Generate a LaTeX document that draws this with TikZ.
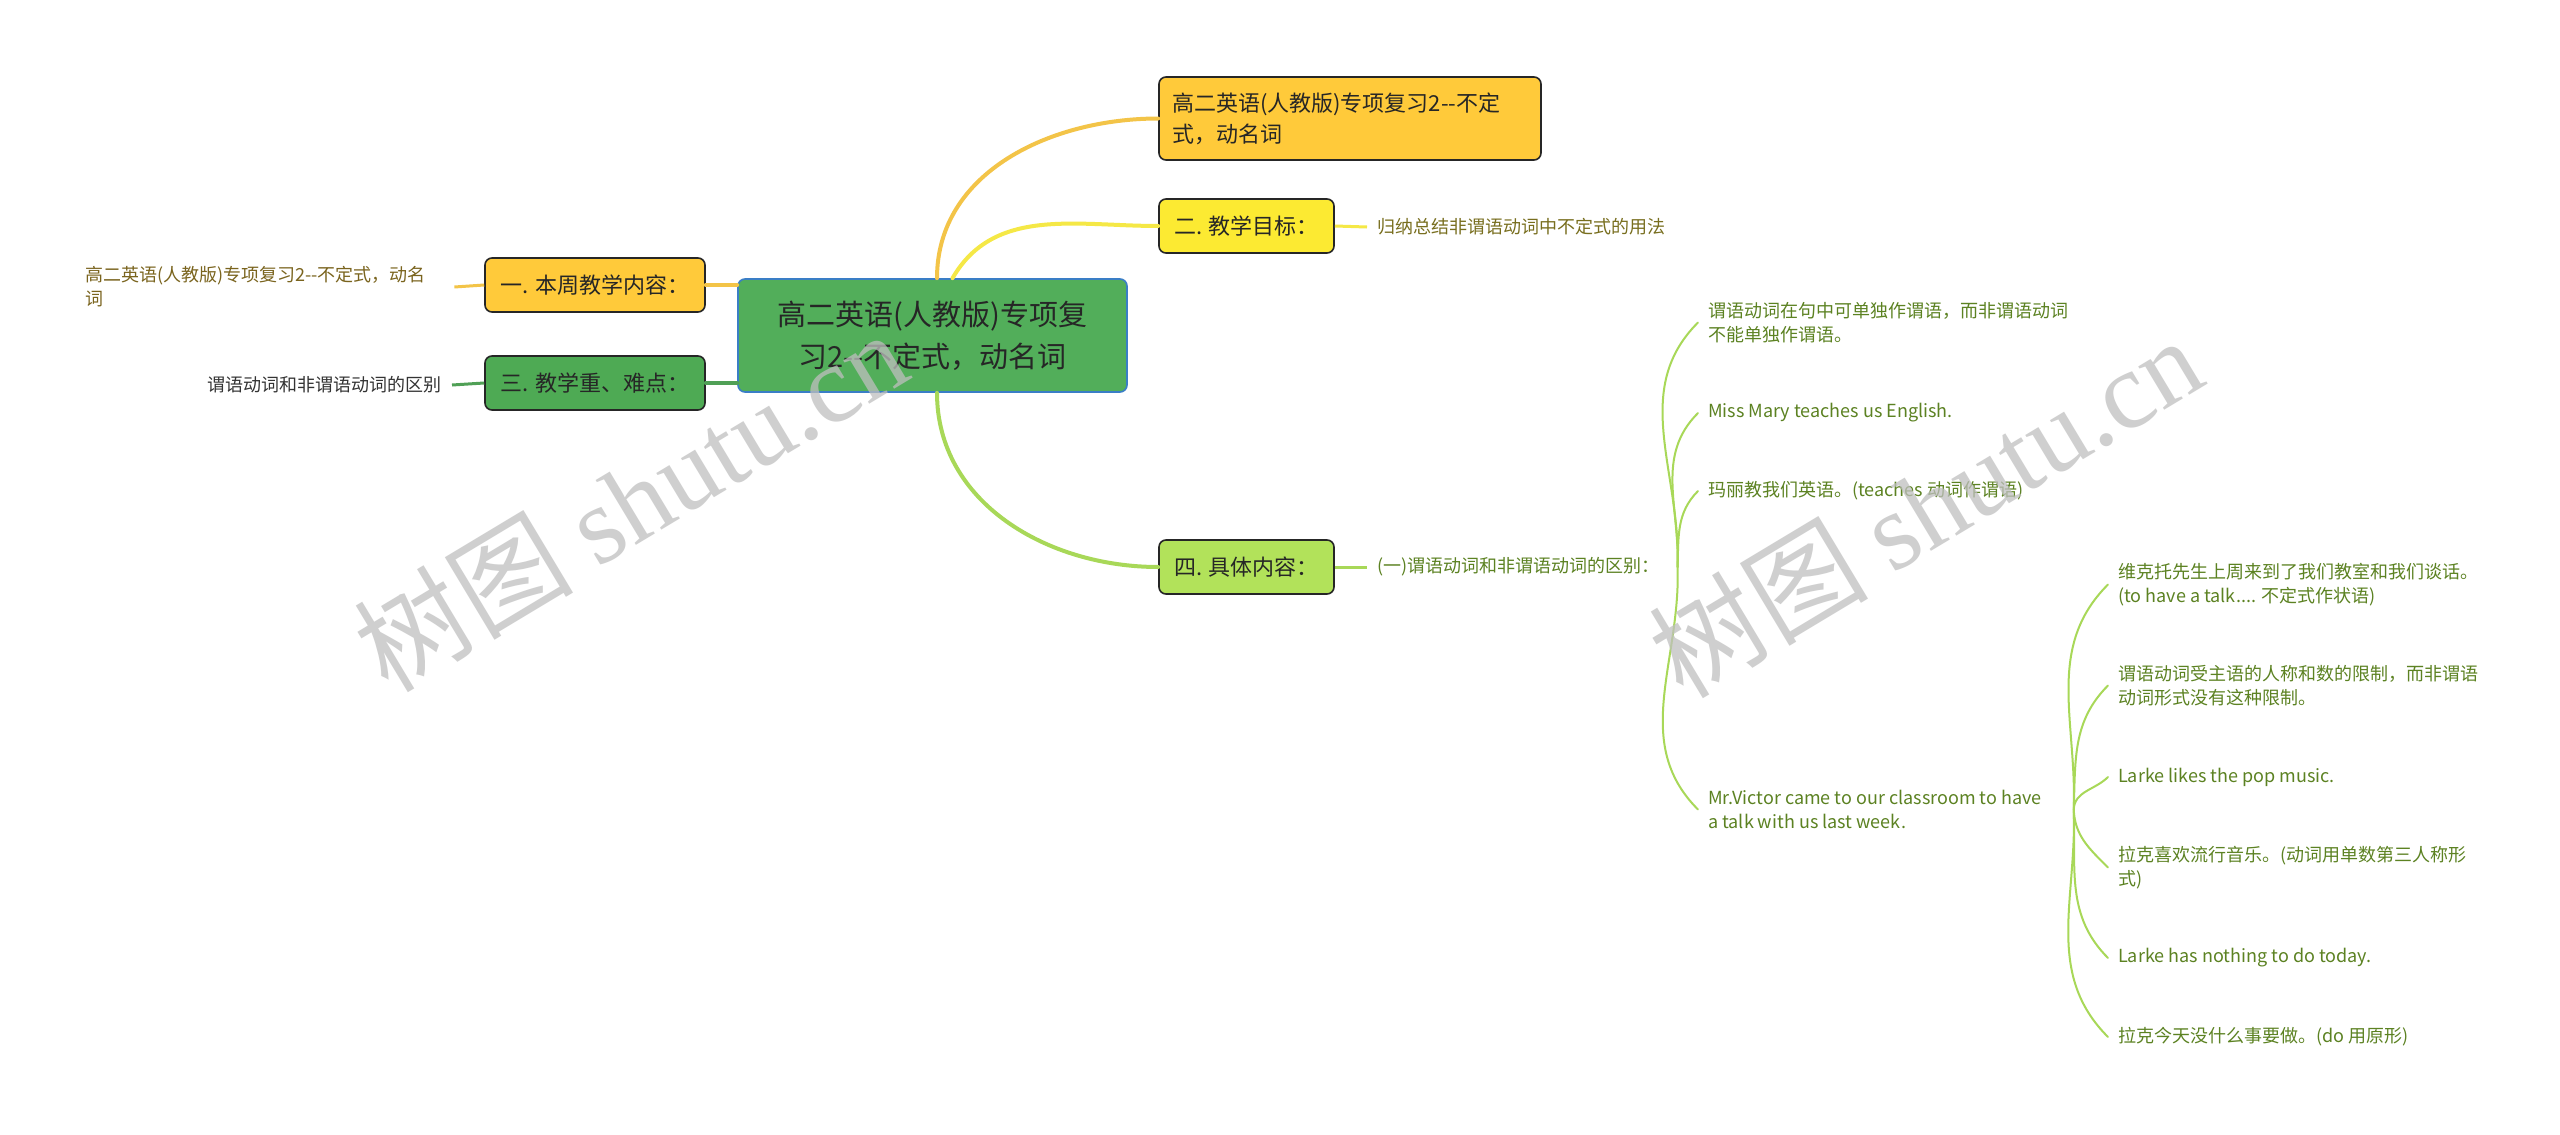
\documentclass[tikz,border=0pt]{standalone}
\usepackage{fontspec}
\setmainfont{Noto Sans CJK SC}
\newfontfamily\wmserif{Liberation Serif}
\usetikzlibrary{positioning}
\definecolor{cRoot}  {RGB}{ 82,174, 90}
\definecolor{cRootBd}{RGB}{ 58,126,198}
\definecolor{cOr}    {RGB}{255,202, 58}
\definecolor{cYe}    {RGB}{252,234, 50}
\definecolor{cGr}    {RGB}{ 78,170, 84}
\definecolor{cLg}    {RGB}{178,226, 90}
\definecolor{lOr}    {RGB}{243,196, 72}
\definecolor{lYe}    {RGB}{245,232, 70}
\definecolor{lGr}    {RGB}{ 80,160, 86}
\definecolor{lLg}    {RGB}{168,216, 88}
\definecolor{tOr}    {RGB}{122,100, 30}
\definecolor{tYe}    {RGB}{120,110, 30}
\definecolor{tGr}    {RGB}{ 51, 51, 51}
\definecolor{tLg}    {RGB}{ 92,130, 34}
\tikzset{
  rootbox/.style={
    rectangle, rounded corners=7pt,
    draw=cRootBd, fill=cRoot, text=black!85,
    minimum width=389pt, minimum height=113pt,
    align=center, font=\fontsize{29}{42}\selectfont,
    line width=1.6pt
  },
  topic/.style={
    rectangle, rounded corners=7pt,
    draw=black!85, fill=#1, text=black!85,
    minimum height=54pt, align=left,
    font=\fontsize{22}{31}\selectfont,
    inner xsep=13pt, line width=1.6pt
  },
  leaf/.style={
    align=left, inner xsep=10pt, inner ysep=2pt,
    text=#1, font=\fontsize{18}{24}\selectfont
  },
  main/.style={draw=#1, line width=4pt, line cap=round},
  sub/.style={draw=#1, line width=3pt},
  fan/.style={draw=lLg, line width=2pt, line cap=round},
  wm/.style={text=black!25, opacity=0.75, rotate=31,
             font=\fontsize{110}{110}\selectfont},
}

\begin{document}
\begin{tikzpicture}[x=1pt, y=1pt]
\fill[white] (0,0) rectangle (2560,-1135);
\useasboundingbox (0,0) rectangle (2560,-1135);

%% ── Centre and first level ───────────────────────────────────────────────────
\node[rootbox] (root) at (932.5,-335.5) {高二英语(人教版)专项复\\习2-{}-不定式，动名词};

\node[topic=cOr, minimum width=220pt] (week) at (595,-285) {一. 本周教学内容：};
\node[topic=cGr, minimum width=220pt] (key)  at (595,-383) {三. 教学重、难点：};

\node[topic=cOr, minimum width=382pt, minimum height=83pt, text width=356pt]
  (title) at (1350,-118.5) {高二英语(人教版)专项复习2-{}-不定\\式，动名词};
\node[topic=cYe, minimum width=175pt] (goal) at (1246.5,-226) {二. 教学目标：};
\node[topic=cLg, minimum width=175pt] (body) at (1246.5,-567) {四. 具体内容：};

%% ── Leaves of the small topics ───────────────────────────────────────────────
\node[leaf=tOr, anchor=west, text width=359pt] (weekL) at (75,-287)
  {高二英语(人教版)专项复习2-{}-不定式，动名\\词};
\node[leaf=tGr, anchor=east] (keyL)  at (452,-385) {谓语动词和非谓语动词的区别};
\node[leaf=tYe, anchor=west] (goalL) at (1367,-227) {归纳总结非谓语动词中不定式的用法};
\node[leaf=tLg, anchor=west] (bodyL) at (1367,-567) {(一)谓语动词和非谓语动词的区别：};

%% ── First fan ────────────────────────────────────────────────────────────────
\coordinate (fanA) at ([xshift=8pt]bodyL.east);
\node[leaf=tLg, anchor=west] (predA) at (1698,-322.5)
  {谓语动词在句中可单独作谓语，而非谓语动词\\不能单独作谓语。};
\node[leaf=tLg, anchor=west] (mary)  at (1698,-413) {Miss Mary teaches us English.};
\node[leaf=tLg, anchor=west] (maryC) at (1698,-491) {玛丽教我们英语。(teaches 动词作谓语)};
\node[leaf=tLg, anchor=west] (victor) at (1698,-809.5)
  {Mr.Victor came to our classroom to have\\a talk with us last week.};

%% ── Second fan ───────────────────────────────────────────────────────────────
\coordinate (fanB) at ([xshift=22pt]victor.east);
\node[leaf=tLg, anchor=west] (victorC) at (2108,-584.5)
  {维克托先生上周来到了我们教室和我们谈话。\\(to have a talk.... 不定式作状语)};
\node[leaf=tLg, anchor=west] (predB) at (2108,-685.5)
  {谓语动词受主语的人称和数的限制，而非谓语\\动词形式没有这种限制。};
\node[leaf=tLg, anchor=west] (likes)  at (2108,-777) {Larke likes the pop music.};
\node[leaf=tLg, anchor=west] (likesC) at (2108,-867.5)
  {拉克喜欢流行音乐。(动词用单数第三人称形\\式)};
\node[leaf=tLg, anchor=west] (today)  at (2108,-958) {Larke has nothing to do today.};
\node[leaf=tLg, anchor=west] (todayC) at (2108,-1037) {拉克今天没什么事要做。(do 用原形)};

%% ── Connectors from the centre ───────────────────────────────────────────────
\draw[main=lOr] ([xshift=4.5pt]root.north) to[out=90, in=180] (title.west);
\draw[main=lYe] ([xshift=20pt]root.north)  to[out=60, in=180] (goal.west);
\draw[main=lLg] ([xshift=4.5pt]root.south) to[out=-90, in=180] (body.west);
\draw[main=lOr] (week.east) -- (week.east -| root.west);
\draw[main=lGr] (key.east)  -- (key.east -| root.west);

%% ── Connectors to the leaves ─────────────────────────────────────────────────
\draw[sub=lOr] (weekL.east) -- (week.west);
\draw[sub=lGr] (keyL.east)  -- (key.west);
\draw[sub=lYe] (goal.east)  -- (goalL.west);
\draw[sub=lLg] (body.east)  -- (bodyL.west);

\foreach \leafname in {predA, mary, maryC}
  \draw[fan] (fanA) to[out=88, in=-135] (\leafname.west);
\draw[fan] (fanA) to[out=-88, in=135] (victor.west);

\foreach \leafname in {victorC, predB, likes}
  \draw[fan] (fanB) to[out=88, in=-135] (\leafname.west);
\foreach \leafname in {likesC, today, todayC}
  \draw[fan] (fanB) to[out=-88, in=135] (\leafname.west);

%% ── Watermarks ───────────────────────────────────────────────────────────────
\node[wm] (wmA) at (630,-500)  {树图 {\wmserif shutu.cn}};
\node[wm] (wmB) at (1925,-506) {树图 {\wmserif shutu.cn}};

\end{tikzpicture}
\end{document}
